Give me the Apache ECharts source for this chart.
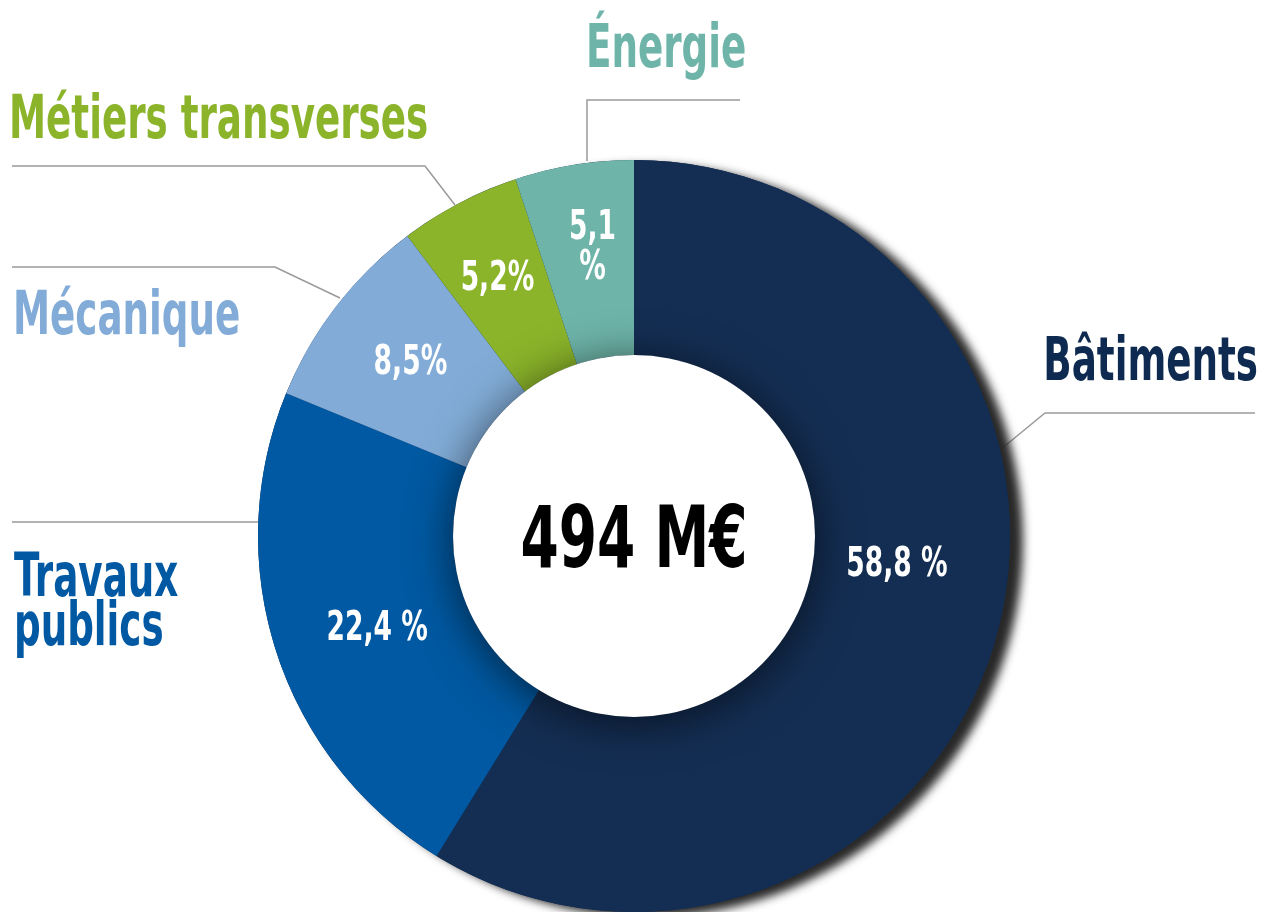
<!DOCTYPE html>
<html><head><meta charset="utf-8">
<script src="https://cdn.jsdelivr.net/npm/echarts@6/dist/echarts.min.js"></script>
<style>html,body{margin:0;padding:0;background:#fff}#c{width:1269px;height:912px}</style>
</head><body><div id="c"></div>
<script>
const categories = ['Bâtiments', 'Travaux publics', 'Mécanique', 'Métiers transverses', 'Énergie'];
const values = [58.8, 22.4, 8.5, 5.2, 5.1];
const pctLabels = ['58,8 %', '22,4 %', '8,5%', '5,2%', '5,1\n%'];
const nameLabels = ['Bâtiments', 'Travaux\npublics', 'Mécanique', 'Métiers transverses', 'Énergie'];
const centerLabel = '494 M€';

const colors = ['#142e53', '#0059a2', '#82acd7', '#8bb42a', '#6eb4a9'];
const textColors = ['#0e2a50', '#0059a2', '#82acd7', '#8bb42a', '#6eb4a9'];
const FONT = '"DejaVu Sans Condensed", "Liberation Sans Narrow", sans-serif';
const CENTER = [634, 536];
const R_IN = 181, R_OUT = 376;

// label placement (layout only)
const nameLayout = [
  {x: 1258, y: 364, align: 'right', pts: [[1000, 450], [1045, 413], [1255, 413]]},
  {x: 14, y: 605, align: 'left', pts: [[258, 522], [12, 522]]},
  {x: 13, y: 318, align: 'left', pts: [[340, 298], [275, 267], [12, 267]]},
  {x: 9, y: 122, align: 'left', pts: [[455, 205], [425, 166], [12, 166]]},
  {x: 586, y: 51, align: 'left', pts: [[587, 161], [587, 100], [740, 100]]}
];
// offsets of percentage labels from the sector's mid point
const pctOffset = [[-5, -47], [8, 7], [-3, -3], [-7, -10], [3, -13]];

const chart = echarts.init(document.getElementById('c'), null, {renderer: 'canvas'});
const ringData = categories.map((c, i) => ({name: c, value: values[i], itemStyle: {color: colors[i]}}));

chart.setOption({
  animation: false,
  series: [
    { // shadow backdrop
      type: 'pie', center: CENTER, radius: [0, R_OUT], silent: true,
      label: {show: false}, labelLine: {show: false},
      data: [{value: 1, itemStyle: {color: colors[0], shadowColor: 'rgba(40,40,40,1)', shadowBlur: 10, shadowOffsetX: 13, shadowOffsetY: 5}}]
    },
    { // ring
      type: 'pie', center: CENTER, radius: [R_IN, R_OUT], startAngle: 90, silent: true,
      data: ringData,
      label: {show: false}, labelLine: {show: false}
    },
    { // inner white disc
      type: 'pie', center: CENTER, radius: [0, R_IN], silent: true,
      data: [{value: 1, name: centerLabel, itemStyle: {color: '#ffffff', shadowColor: 'rgba(0,0,0,0.6)', shadowBlur: 45, shadowOffsetX: 0, shadowOffsetY: 6}}],
      label: {show: false}, labelLine: {show: false}
    }
  ]
});

const graphics = [];
// percentage labels placed at the sector mid points computed by the pie layout
const ringList = chart.getModel().getSeriesByIndex(1).getData();
pctLabels.forEach((t, i) => {
  const l = ringList.getItemLayout(i);
  const mid = (l.startAngle + l.endAngle) / 2;
  const rm = (l.r + l.r0) / 2;
  const x = l.cx + rm * Math.cos(mid) + pctOffset[i][0];
  const y = l.cy + rm * Math.sin(mid) + pctOffset[i][1];
  graphics.push({
    type: 'text', silent: true, x: x, y: y, scaleX: 0.72, scaleY: 1, z: 100,
    style: {text: t, fill: '#ffffff', fontFamily: FONT, fontWeight: 'bold', fontSize: 41,
      lineHeight: 40, align: 'center', verticalAlign: 'middle'}
  });
});
nameLabels.forEach((t, i) => {
  const L = nameLayout[i];
  graphics.push({
    type: 'polyline', silent: true,
    shape: {points: L.pts},
    style: {stroke: '#9a9a9a', lineWidth: 1.5, fill: null}
  });
  graphics.push({
    type: 'text', silent: true, x: L.x, y: L.y, scaleX: 0.69, scaleY: 1,
    style: {
      text: t, fill: textColors[i], fontFamily: FONT, fontWeight: 'bold', fontSize: 60,
      lineHeight: 49, align: L.align, verticalAlign: 'middle'
    }
  });
});
graphics.push({
  type: 'text', silent: true, x: CENTER[0], y: 545, scaleX: 0.72, scaleY: 1, z: 100,
  style: {text: centerLabel, fill: '#000', fontFamily: FONT, fontWeight: 'bold', fontSize: 85, align: 'center', verticalAlign: 'middle'}
});
chart.setOption({graphic: graphics});
</script></body></html>
